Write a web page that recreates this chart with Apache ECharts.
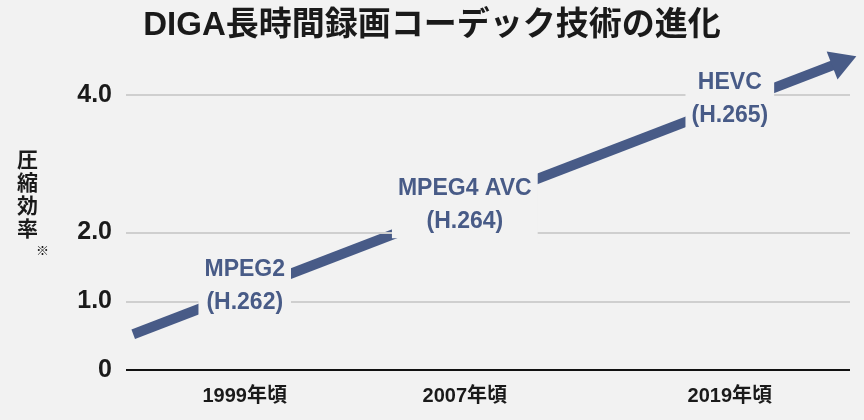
<!DOCTYPE html>
<html>
<head>
    <meta charset="utf-8">
    <title>DIGA</title>
    <script src="https://cdn.jsdelivr.net/npm/echarts@6/dist/echarts.min.js"></script>
    <style>body{margin:0;background:#f2f2f2}</style>
</head>
<body>
<div id="chart1" style="width:864px;height:420px;"></div>
<script type="text/javascript">
    // 横軸の位置（0-100）と年ラベル
    var yearPos = [16.4, 46.8, 83.4];
    var yearLabels = ['1999年頃', '2007年頃', '2019年頃'];
    // 縦軸目盛
    var yTicks = [0, 1, 2, 4];
    // 矢印（始点・終点）
    var arrowX = [1, 99.2];
    var arrowY = [0.52, 4.5];
    // コーデック名
    var codecNames = ['MPEG2\n(H.262)', 'MPEG4 AVC\n(H.264)', 'HEVC\n(H.265)'];
    var codecY = [1.22, 2.4, 3.94];

    var myChart1 = echarts.init(document.getElementById('chart1'));
    var FONT = '"Liberation Sans", "Noto Sans CJK JP", sans-serif';

    myChart1.setOption({
        backgroundColor: '#f2f2f2',
        title: {
            text: 'DIGA長時間録画コーデック技術の進化',
            left: 'center', top: 4,
            textStyle: {fontSize: 33, fontWeight: 'bold', color: '#1a1a1a', fontFamily: FONT}
        },
        graphic: [{
            type: 'text', left: 17, top: 148,
            style: {text: '圧\n縮\n効\n率', fontSize: 21, fontWeight: 'bold', lineHeight: 23,
                fill: '#1a1a1a', fontFamily: '"Noto Sans CJK JP"'}
        }, {
            type: 'text', left: 36, top: 244,
            style: {text: '※', fontSize: 13, fontWeight: 'bold', fontFamily: '"Noto Sans CJK JP"', fill: '#1a1a1a'}
        }],
        grid: {left: 126, right: 14, top: 54, bottom: 50},
        xAxis: {
            type: 'value', min: 0, max: 100,
            axisLine: {show: false}, axisTick: {show: false}, splitLine: {show: false},
            axisLabel: {
                customValues: yearPos, margin: 16,
                formatter: function (v) { return yearLabels[yearPos.indexOf(v)]; },
                fontSize: 20, fontWeight: 'bold', color: '#1a1a1a', fontFamily: FONT
            }
        },
        yAxis: {
            type: 'value', min: 0, max: 4.6,
            axisLine: {show: false}, axisTick: {show: false},
            splitLine: {show: false},
            axisLabel: {
                customValues: yTicks, margin: 14,
                formatter: function (v) { return v === 0 ? '0' : v.toFixed(1); },
                fontSize: 25, fontWeight: 'bold', color: '#1a1a1a', fontFamily: FONT
            }
        },
        series: [{
            type: 'line', silent: true, symbol: 'none', data: [],
            markLine: {
                symbol: 'none', silent: true, label: {show: false},
                data: yTicks.map(function (t) {
                    return {yAxis: t, lineStyle: t === 0 ? {color: '#111', width: 2, type: 'solid'} : {color: '#cfcfcf', width: 2, type: 'solid'}};
                })
            }
        }, {
            type: 'line', silent: true,
            showSymbol: true,
            lineStyle: {color: '#485b87', width: 10},
            itemStyle: {color: '#485b87'},
            data: [[arrowX[0], arrowY[0]], [arrowX[1], arrowY[1]]].map(function (d, i) {
                return {value: d, symbol: i === 0 ? 'none' : 'triangle', symbolRotate: -68.8, symbolSize: [30, 26]};
            }),
            z: 3
        }, {
            type: 'scatter', silent: true, symbolSize: 0, z: 5,
            itemStyle: {opacity: 1},
            data: yearPos.map(function (x, i) { return [x, codecY[i]]; }),
            label: {
                show: true, position: 'inside', opacity: 1,
                formatter: function (p) { return codecNames[p.dataIndex]; },
                fontSize: 23, fontWeight: 'bold', lineHeight: 33, color: '#485b87',
                fontFamily: FONT, backgroundColor: '#f2f2f2', padding: [0, 6]
            }
        }]
    });
</script>
</body>
</html>
